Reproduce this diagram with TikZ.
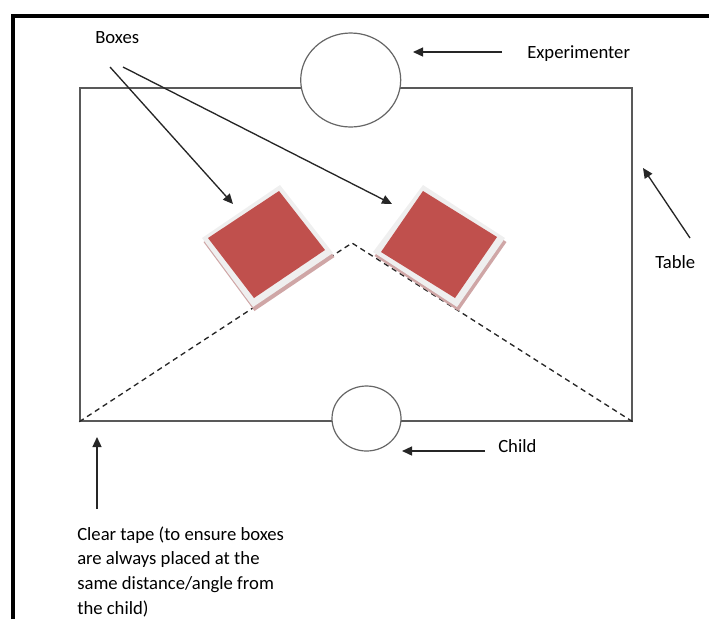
\documentclass[tikz,border=0pt]{standalone}
\usepackage{fontspec}
\setmainfont{Carlito}
\usetikzlibrary{shapes.geometric,arrows.meta}
\definecolor{boxred}{HTML}{C0504D}
\definecolor{boxshadow}{HTML}{CFA6A6}
\definecolor{boxrim}{HTML}{EFEFEF}
\begin{document}
\begin{tikzpicture}[x=0.75pt,y=-0.75pt,
  lbl/.style={inner sep=0pt, anchor=base west, font=\fontsize{14}{18.75}\selectfont},
  arr/.style={-{Triangle[length=7.5pt,width=6.75pt]}, line width=1pt, black!85},
  tbl/.style={rectangle, draw=black!65, line width=1.1pt, inner sep=0pt},
  person/.style={ellipse, draw=black!60, line width=0.9pt, fill=white, inner sep=0pt},
  tape/.style={dash pattern=on 4pt off 3pt, line width=1pt, black!85},
  frame/.style={line width=2.4pt},
  rim/.style={fill=boxrim},
  shade/.style={fill=boxshadow},
  redface/.style={fill=boxred}]
\useasboundingbox (0,0) rectangle (709,619);
% outer frame
\draw[frame] (13,619) -- (13,16) -- (709,16);
% table
\node[tbl, minimum width=414pt, minimum height=249.75pt] (table) at (356,254.5) {};
% tape lines
\coordinate (apex) at (352,243);
\draw[tape] (table.south west) -- (apex) -- (table.south east);
% boxes
\fill[shade] (281.5,189) -- (334.5,257) -- (254.5,311) -- (203.5,242) -- cycle;
\fill[rim] (280,185) -- (333,253) -- (253,307) -- (202,238) -- cycle;
\fill[redface] (279,191) -- (325,250) -- (254,298) -- (208,238) -- cycle;
\fill[shade] (424.5,189) -- (506.5,242) -- (458.5,311) -- (374.5,256) -- cycle;
\fill[rim] (423,185) -- (505,238) -- (457,307) -- (373,252) -- cycle;
\fill[redface] (423,191) -- (497,237) -- (455,298) -- (381,252) -- cycle;
% people
\node[person, minimum width=75pt, minimum height=70.5pt] (experimenter) at (350.7,80) {};
\node[person, minimum width=51.75pt, minimum height=48.75pt] (child) at (366.5,418.5) {};
% labels
\node[lbl] (boxeslbl) at (95,43) {Boxes};
\node[lbl] (explbl) at (527,58) {Experimenter};
\node[lbl] (childlbl) at (498,452) {Child};
\node[lbl] (tablelbl) at (655,268) {Table};
\node[lbl] (tapelbl) at (77,540) {\parbox[t]{240pt}{\fontsize{14}{18.5}\selectfont Clear tape (to ensure boxes\\are always placed at the\\same distance/angle from\\the child)}};
% arrow ends
\coordinate (b1tail) at (110,67);
\coordinate (b1tip) at (233,204);
\coordinate (b2tail) at (123,67);
\coordinate (b2tip) at (392,204);
\coordinate (exptail) at (502,52);
\coordinate (exptip) at (413,52);
\coordinate (chtail) at (485,451);
\coordinate (chtip) at (402,451);
\coordinate (tbtail) at (690,238);
\coordinate (tbtip) at (643,168);
\coordinate (tptail) at (97,509);
\coordinate (tptip) at (97,437);
\draw[arr] (b1tail) -- (b1tip);
\draw[arr] (b2tail) -- (b2tip);
\draw[arr] (exptail) -- (exptip);
\draw[arr] (chtail) -- (chtip);
\draw[arr] (tbtail) -- (tbtip);
\draw[arr] (tptail) -- (tptip);
\end{tikzpicture}
\end{document}
